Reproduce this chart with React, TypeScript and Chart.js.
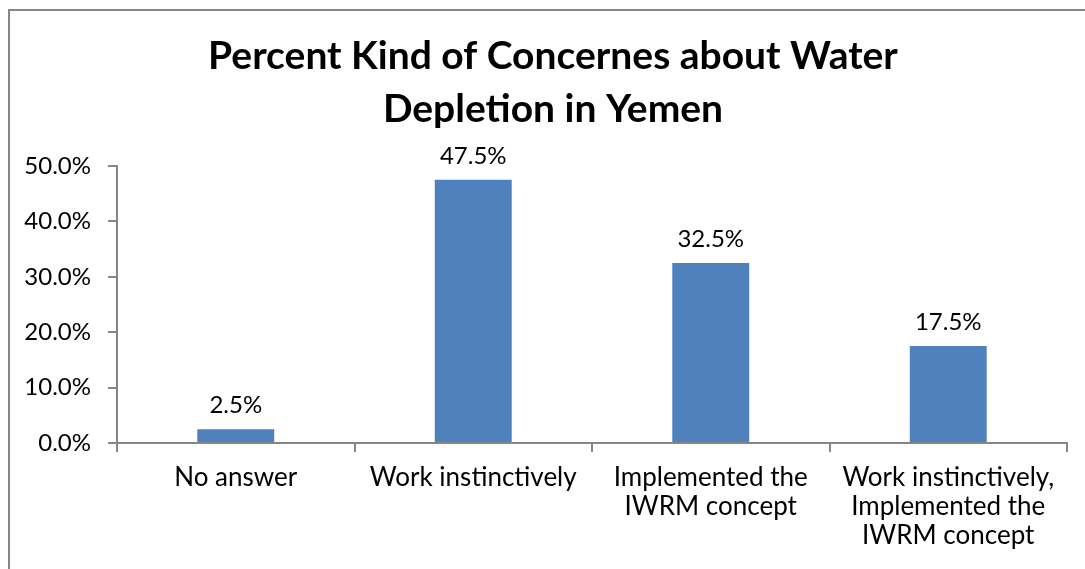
import React, { useEffect, useRef } from "react";
import { Chart, registerables } from "chart.js";

Chart.register(...registerables);

const titleLines = ["Percent Kind of Concernes about Water", "Depletion in Yemen"];
const categories: string[][] = [
  ["No answer"],
  ["Work instinctively"],
  ["Implemented the", "IWRM concept"],
  ["Work instinctively,", "Implemented the", "IWRM concept"],
];
const percentValues = [2.5, 47.5, 32.5, 17.5];
const yMin = 0;
const yMax = 50;
const yStep = 10;

const FONT = "Lato, 'Open Sans', sans-serif";
const AXIS_COLOR = "#868686";
const BAR_COLOR = "#4F81BD";
const LABEL_SIZE = 26;
const NUMBER_SIZE = 24;

const valueLabels = {
  id: "valueLabels",
  afterDatasetsDraw(chart: any) {
    const ctx = chart.ctx;
    const meta = chart.getDatasetMeta(0);
    ctx.save();
    ctx.font = `${NUMBER_SIZE}px ${FONT}`;
    ctx.fillStyle = "#000";
    ctx.textAlign = "center";
    ctx.textBaseline = "middle";
    meta.data.forEach((bar: any, i: number) => {
      const v = chart.data.datasets[0].data[i] as number;
      ctx.fillText(v.toFixed(1) + "%", bar.x, bar.y - 24);
    });
    ctx.restore();
  },
};

export default function App() {
  const ref = useRef<HTMLCanvasElement | null>(null);
  useEffect(() => {
    if (!ref.current) return;
    const chart = new Chart(ref.current, {
      type: "bar",
      data: {
        labels: categories,
        datasets: [
          {
            data: percentValues,
            backgroundColor: BAR_COLOR,
            borderWidth: 0,
            categoryPercentage: 1,
            barPercentage: 0.324,
          },
        ],
      },
      options: {
        animation: false,
        responsive: false,
        devicePixelRatio: 1,
        layout: { padding: 0 },
        plugins: {
          legend: { display: false },
          tooltip: { enabled: false },
          title: {
            display: true,
            text: titleLines,
            color: "#000",
            font: { family: FONT, size: 39, weight: "bold", lineHeight: "53px" },
            padding: { top: 18.5, bottom: 30.5 },
          },
        },
        scales: {
          x: {
            grid: {
              offset: true,
              drawOnChartArea: false,
              drawTicks: true,
              tickLength: 9,
              color: AXIS_COLOR,
              lineWidth: 2,
            },
            border: { color: AXIS_COLOR, width: 2 },
            ticks: {
              color: "#000",
              font: { family: FONT, size: LABEL_SIZE, lineHeight: "29px" },
              padding: 11.5,
              maxRotation: 0,
              autoSkip: false,
            },
            afterFit(scale: any) {
              scale.height = 144;
            },
          },
          y: {
            min: yMin,
            max: yMax,
            grid: {
              drawOnChartArea: false,
              drawTicks: true,
              tickLength: 9,
              color: AXIS_COLOR,
              lineWidth: 2,
            },
            border: { color: AXIS_COLOR, width: 2 },
            ticks: {
              stepSize: yStep,
              color: "#000",
              font: { family: FONT, size: NUMBER_SIZE },
              padding: 17,
              callback: (v: any) => Number(v).toFixed(1) + "%",
            },
            afterFit(scale: any) {
              scale.width = 107;
            },
          },
          spacer: {
            type: "linear",
            position: "right",
            display: true,
            grid: { display: false, drawTicks: false },
            border: { display: false },
            ticks: { display: false },
            afterFit(scale: any) {
              scale.width = 29;
            },
          },
        },
      },
      plugins: [valueLabels],
    });
    return () => chart.destroy();
  }, []);

  return (
    <div
      style={{
        position: "fixed",
        left: 8,
        top: 9,
        width: 1090,
        height: 580,
        border: `2px solid ${AXIS_COLOR}`,
        boxSizing: "border-box",
        background: "#fff",
      }}
    >
      <canvas ref={ref} width={1086} height={576} style={{ display: "block" }} />
    </div>
  );
}
